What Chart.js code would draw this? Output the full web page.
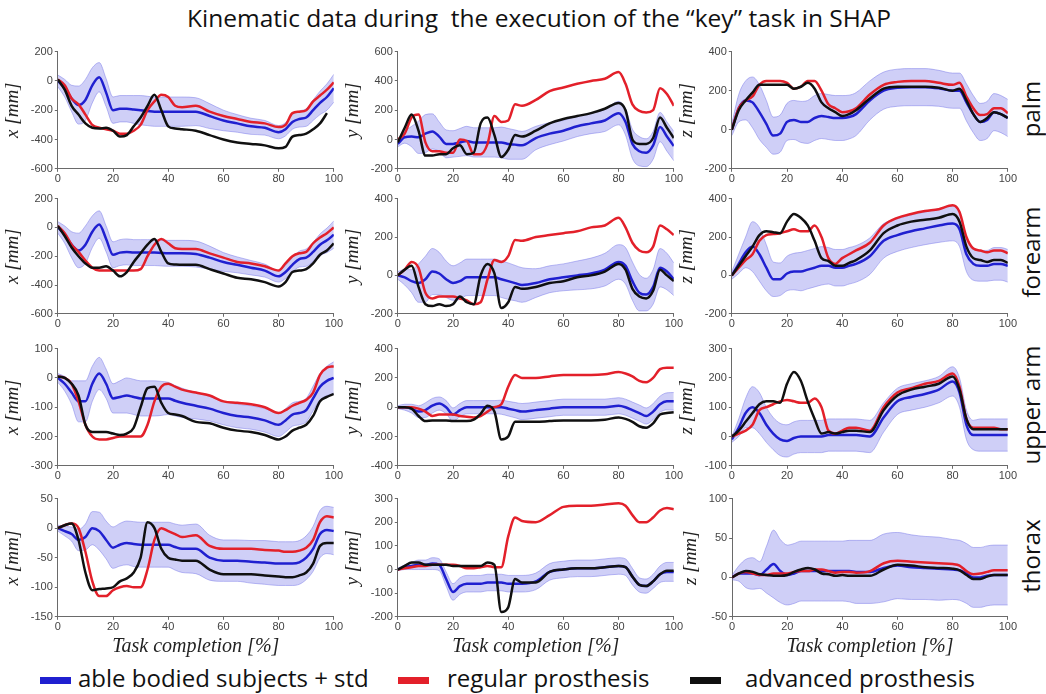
<!DOCTYPE html>
<html>
<head>
<meta charset="utf-8">
<script src="https://cdn.jsdelivr.net/npm/chart.js@4.4.1/dist/chart.umd.min.js"></script>
<style>
  body { margin: 0; background: #fff; width: 1046px; height: 694px; position: relative; overflow: hidden; font-family: "Open Sans", sans-serif; color: #111; }
  canvas { position: absolute; }
  #title { position: absolute; left: 16px; width: 1046px; top: 1px; text-align: center; font-size: 24.5px; white-space: pre; }
  .part { position: absolute; left: 1030px; font-size: 24px; white-space: nowrap; transform: translate(-50%, -50%) rotate(-90deg); }
  .sw { position: absolute; top: 677px; width: 31px; height: 7px; }
  .leg { position: absolute; top: 661px; font-size: 24px; white-space: nowrap; }
</style>
</head>
<body>
<div id="title">Kinematic data during  the execution of the “key” task in SHAP</div>
<div class="part" style="top:109px">palm</div>
<div class="part" style="top:252px">forearm</div>
<div class="part" style="top:405px">upper arm</div>
<div class="part" style="top:556px">thorax</div>
<div class="sw" style="left:40px;background:#2020d0"></div>
<div class="leg" style="left:78px">able bodied subjects + std</div>
<div class="sw" style="left:398px;background:#e3202a"></div>
<div class="leg" style="left:447px">regular prosthesis</div>
<div class="sw" style="left:690px;background:#101010"></div>
<div class="leg" style="left:745px">advanced prosthesis</div>

<script>
// % de la tarea
const pct = [0, 2.5, 5, 7.5, 10, 12.5, 15, 17.5, 20, 22.5, 25, 27.5, 30, 32.5, 35, 37.5, 40, 42.5, 45, 50, 55, 60, 65, 70, 75, 80, 82.5, 85, 87.5, 90, 92.5, 95, 97.5, 100];

// palm
const palmXBlue = [0,-50,-120,-165,-130,-30,25,-80,-200,-190,-190,-195,-200,-205,-210,-210,-210, -210, -210,-210,-240,-270,-290,-310,-320,-350,-330,-280,-260,-250,-200,-150,-110,-50];
const palmXStd = [40,60,90,130,140,120,100,95,90,90,90,95,100,100,100,100,100, 100, 100,95,85,70,60,55,50,45,45,50,55,60,70,80,90,95];
const palmXRed = [10,-30,-120,-160,-230,-300,-320,-330,-340,-360,-360,-340,-300,-200,-140,-95,-110, -170, -180,-170,-210,-240,-260,-280,-290,-315,-300,-220,-210,-200,-140,-100,-60,-10];
const palmXBlack = [10,-60,-170,-230,-290,-320,-325,-320,-340,-380,-370,-310,-250,-170,-95,-200,-310, -325, -330,-340,-370,-400,-420,-430,-440,-460,-450,-380,-370,-360,-330,-290,-220,null];

const palmYBlue = [-30,15,20,15,40,55,20,-30,-30,-20,-10,-20,-20,-20,-20,-20,-30, -35, -40,10,40,60,90,110,130,180,120,-30,-80,-90,-40,85,20,-45];
const palmYStd = [20,40,70,110,130,120,100,95,90,95,100,100,100,100,100,105,105, 100, 95,80,75,70,70,70,75,80,90,100,100,95,95,100,100,100];
const palmYRed = [0,40,150,170,-20,-80,-80,-90,-90,0,-10,-100,-100,-30,160,120,130, 240, 230,270,330,355,380,400,415,460,380,240,195,185,200,350,310,230];
const palmYBlack = [-20,80,170,60,-110,-110,-100,-100,-60,-40,-100,-90,110,150,30,-120,-70, 30, 20,60,110,140,160,180,210,250,200,0,-30,-30,10,150,80,10];

const palmZBlue = [0,110,150,140,90,30,-30,-20,40,50,40,40,60,70,65,60,60, 65, 80,150,200,215,218,218,212,200,200,140,80,40,50,90,80,60];
const palmZStd = [30,70,100,130,140,120,95,95,95,100,105,110,115,115,115,115,115, 112, 110,100,95,95,95,95,92,90,90,95,95,95,95,95,95,95];
const palmZRed = [0,110,150,170,230,250,250,250,240,210,220,250,250,200,130,110,90, 95, 110,180,230,245,250,250,240,230,240,170,110,75,80,110,110,85];
const palmZBlack = [0,100,150,190,230,230,230,230,230,210,220,240,210,140,110,90,70, 80, 100,160,210,220,220,220,215,200,210,150,80,40,60,90,80,60];

// forearm
const foreXBlue = [0,-50,-120,-160,-120,-30,20,-80,-190,-175,-170,-175,-175,-175,-175,-178,-180, -180, -180,-185,-210,-240,-260,-280,-300,-340,-310,-260,-220,-210,-170,-120,-90,-50];
const foreXStd = [40,60,90,120,130,110,95,90,90,90,90,90,90,90,90,90,90, 90, 90,90,80,65,55,50,45,40,45,50,55,60,65,75,85,95];
const foreXRed = [10,-40,-120,-170,-230,-280,-300,-300,-300,-300,-300,-300,-290,-200,-120,-80,-110, -145, -150,-150,-180,-210,-240,-250,-270,-300,-250,-200,-180,-170,-110,-70,-40,0];
const foreXBlack = [10,-60,-140,-200,-250,-280,-280,-270,-300,-340,-310,-240,-180,-120,-80,-170,-250, -258, -260,-260,-290,-320,-350,-360,-380,-410,-380,-310,-300,-290,-250,-190,-160,-110];

const foreYBlue = [0,-10,-30,-40,-20,20,10,-20,-40,-30,-10,-10,-10,-10,-10,-20,-30, -40, -50,-40,-20,-10,0,10,30,70,50,-30,-90,-100,-60,40,20,-20];
const foreYStd = [20,40,60,100,120,120,110,95,90,95,95,95,95,95,95,95,95, 92, 90,75,70,70,75,80,85,90,95,100,95,85,90,100,95,85];
const foreYRed = [0,30,70,40,-90,-120,-110,-110,-110,-120,-130,-150,-140,-20,80,70,100, 185, 180,200,210,220,230,250,260,300,250,170,130,120,150,260,240,210];
const foreYBlack = [0,30,50,-60,-150,-160,-150,-160,-150,-110,-140,-150,0,60,10,-170,-140, -60, -70,-60,-40,-30,-10,0,20,60,30,-70,-110,-120,-80,30,0,-30];

const foreZBlue = [0,60,120,150,110,40,-20,-20,10,20,20,30,40,50,50,40,40, 50, 60,100,180,210,230,245,260,270,240,110,60,50,50,60,60,50];
const foreZStd = [20,50,80,130,140,120,90,85,90,95,100,100,100,100,95,95,95, 95, 95,95,90,85,85,85,88,90,90,90,85,80,80,85,85,85];
const foreZRed = [0,40,80,110,180,210,215,220,230,240,230,230,260,200,90,60,90, 110, 130,170,260,300,320,335,345,365,330,200,140,130,120,130,130,115];
const foreZBlack = [0,50,100,150,210,230,225,220,280,320,300,260,180,90,75,50,50, 65, 80,130,220,260,280,290,300,320,280,150,90,80,70,80,80,65];

// upper arm
const upperXBlue = [0,-20,-50,-80,-80,-20,15,-20,-70,-65,-60,-65,-70,-70,-70,-70,-70, -78, -85,-95,-105,-120,-130,-135,-145,-160,-145,-125,-120,-110,-70,-30,-10,0];
const upperXStd = [15,25,40,70,70,60,55,50,50,55,60,60,60,60,60,58,55, 52, 50,45,42,40,40,40,40,40,40,40,40,40,42,45,50,55];
const upperXRed = [5,0,-20,-80,-160,-200,-210,-210,-205,-200,-200,-200,-200,-160,-80,-30,-20, -30, -40,-50,-60,-80,-85,-90,-100,-120,-110,-95,-85,-75,-50,10,35,40];
const upperXBlack = [5,0,-20,-60,-160,-185,-185,-185,-190,-195,-190,-170,-100,-35,-30,-85,-120, -125, -130,-150,-155,-170,-180,-185,-195,-210,-200,-180,-170,-160,-130,-80,-65,-55];

const upperYBlue = [0,0,-10,-30,-20,10,25,0,-50,-20,0,0,0,0,0,0,-10, -20, -30,-20,-10,0,0,0,0,10,0,-20,-40,-60,-30,20,40,40];
const upperYStd = [10,20,30,40,50,50,45,45,45,45,45,45,45,45,45,48,50, 52, 55,55,55,55,55,55,55,55,55,55,55,55,55,55,58,60];
const upperYRed = [0,0,0,-10,-30,-60,-50,-50,-50,-60,-65,-70,-60,-30,0,20,140, 220, 200,200,210,220,220,220,225,240,230,210,180,170,200,260,270,270];
const upperYBlack = [0,0,-10,-60,-95,-90,-90,-90,-95,-95,-95,-85,-45,10,-30,-220,-200, -100, -100,-100,-95,-90,-90,-90,-85,-70,-80,-100,-130,-140,-110,-50,-40,-35];

const upperZBlue = [-10,30,80,100,80,40,10,-10,-15,-5,0,0,0,0,5,5,5, 5, 5,0,65,120,135,145,160,188,150,40,5,5,5,5,5,5];
const upperZStd = [10,30,50,70,70,60,55,55,55,55,55,55,55,55,55,55,55, 55, 55,55,50,45,45,45,45,50,50,50,50,55,55,55,55,55];
const upperZRed = [0,10,20,40,90,100,110,120,125,120,115,115,130,100,20,10,20, 30, 30,20,100,150,165,180,190,215,170,60,30,30,30,30,25,25];
const upperZBlack = [0,20,50,80,110,120,120,115,180,220,190,120,60,10,15,10,15, 20, 20,15,90,140,160,170,180,205,160,60,25,25,25,25,25,25];

// thorax
const thorXBlue = [0,-5,-10,-20,-15,0,-5,-20,-33,-28,-25,-27,-28,-28,-28,-28,-28, -32, -35,-35,-50,-55,-55,-57,-58,-60,-60,-60,-58,-50,-35,-10,-3,-5];
const thorXStd = [5,8,12,18,22,28,32,32,35,36,37,38,38,38,38,38,38, 39, 40,42,38,35,35,36,37,37,37,37,37,37,38,40,40,40];
const thorXRed = [0,5,8,0,-40,-90,-115,-115,-105,-100,-98,-100,-100,-70,-20,0,-5, -10, -15,-12,-30,-35,-35,-35,-37,-38,-40,-40,-38,-33,-20,10,20,18];
const thorXBlack = [0,5,8,-20,-75,-105,-103,-102,-100,-90,-85,-75,-50,10,0,-35,-50, -53, -55,-55,-70,-78,-78,-78,-80,-82,-83,-83,-80,-75,-60,-30,-25,-25];

const thorYBlue = [0,10,15,20,20,25,20,-40,-95,-70,-60,-60,-60,-55,-55,-55,-60, -60, -60,-50,-10,0,5,5,10,15,10,-30,-65,-70,-50,-20,-10,-10];
const thorYStd = [5,10,15,20,20,25,25,30,35,35,35,35,35,35,35,35,35, 35, 35,35,35,35,35,35,35,35,35,35,30,30,30,35,40,40];
const thorYRed = [0,5,10,15,15,20,20,20,20,15,5,5,10,15,10,10,140, 220, 205,200,230,265,270,270,275,280,270,230,200,200,220,250,260,255];
const thorYBlack = [0,15,30,30,20,20,20,20,15,15,15,15,15,30,20,-180,-160, -40, -55,-55,-10,0,5,5,10,15,10,-30,-65,-70,-50,-20,-5,-5];

const thorZBlue = [0,5,5,5,3,10,17,8,3,5,8,8,8,8,8,8,8, 8, 7,7,12,15,13,12,11,10,9,5,0,0,2,3,3,3];
const thorZStd = [3,10,18,20,17,30,43,40,38,38,38,38,38,38,38,38,38, 39, 40,40,43,42,41,40,40,38,38,38,38,38,38,38,38,38];
const thorZRed = [0,5,7,5,3,3,5,5,5,7,8,8,10,10,8,6,7, 7, 6,8,18,21,20,19,18,17,15,8,4,5,7,9,9,9];
const thorZBlack = [0,5,8,7,4,3,2,2,3,7,10,12,10,5,4,2,3, 2, 2,2,10,16,15,13,12,11,9,3,-2,-2,1,3,3,3];

// paneles: fila, columna, eje y rango
const panels = [
  { row: 0, col: 0, axis: 'x', min: -600, max: 200, step: 200, blue: palmXBlue, std: palmXStd, red: palmXRed, black: palmXBlack },
  { row: 0, col: 1, axis: 'y', min: -200, max: 600, step: 200, blue: palmYBlue, std: palmYStd, red: palmYRed, black: palmYBlack },
  { row: 0, col: 2, axis: 'z', min: -200, max: 400, step: 200, blue: palmZBlue, std: palmZStd, red: palmZRed, black: palmZBlack },
  { row: 1, col: 0, axis: 'x', min: -600, max: 200, step: 200, blue: foreXBlue, std: foreXStd, red: foreXRed, black: foreXBlack },
  { row: 1, col: 1, axis: 'y', min: -200, max: 400, step: 200, blue: foreYBlue, std: foreYStd, red: foreYRed, black: foreYBlack },
  { row: 1, col: 2, axis: 'z', min: -200, max: 400, step: 200, blue: foreZBlue, std: foreZStd, red: foreZRed, black: foreZBlack },
  { row: 2, col: 0, axis: 'x', min: -300, max: 100, step: 100, blue: upperXBlue, std: upperXStd, red: upperXRed, black: upperXBlack },
  { row: 2, col: 1, axis: 'y', min: -400, max: 400, step: 200, blue: upperYBlue, std: upperYStd, red: upperYRed, black: upperYBlack },
  { row: 2, col: 2, axis: 'z', min: -100, max: 300, step: 100, blue: upperZBlue, std: upperZStd, red: upperZRed, black: upperZBlack },
  { row: 3, col: 0, axis: 'x', min: -150, max: 50, step: 50, blue: thorXBlue, std: thorXStd, red: thorXRed, black: thorXBlack },
  { row: 3, col: 1, axis: 'y', min: -200, max: 300, step: 100, blue: thorYBlue, std: thorYStd, red: thorYRed, black: thorYBlack },
  { row: 3, col: 2, axis: 'z', min: -50, max: 100, step: 50, blue: thorZBlue, std: thorZStd, red: thorZRed, black: thorZBlack }
];

// posición del área de dibujo de cada panel
const colLeft = [58, 398, 732];
const plotW = 276;
const rowTop = [52, 199, 349, 499];
const rowH = [117, 115, 117, 118];

const tickFont = { family: 'Liberation Sans', size: 11 };
const axisGray = '#6a6a6a';
const band = 'rgba(110,110,230,0.33)';
const bandEdge = 'rgba(110,110,230,0.45)';

function pts(arr) {
  return pct.map((x, i) => ({ x: x, y: arr[i] }));
}

function line(arr, color) {
  return { data: pts(arr), borderColor: color, borderWidth: 2.5, pointRadius: 0, fill: false, cubicInterpolationMode: 'monotone' };
}

function config(p) {
  const up = p.blue.map((v, i) => v + p.std[i]);
  const lo = p.blue.map((v, i) => v - p.std[i]);
  return {
    type: 'line',
    data: {
      datasets: [
        line(p.black, '#101010'),
        line(p.red, '#e3202a'),
        line(p.blue, '#2020d0'),
        { data: pts(up), fill: '+1', backgroundColor: band, borderColor: bandEdge, borderWidth: 1, pointRadius: 0, cubicInterpolationMode: 'monotone' },
        { data: pts(lo), fill: false, borderColor: bandEdge, borderWidth: 1, pointRadius: 0, cubicInterpolationMode: 'monotone' }
      ]
    },
    options: {
      responsive: false,
      animation: false,
      events: [],
      layout: { padding: { top: 6, right: 0, left: 0, bottom: 0 } },
      plugins: { legend: { display: false }, tooltip: { enabled: false } },
      scales: {
        x: {
          type: 'linear', min: 0, max: 100,
          ticks: { stepSize: 20, font: tickFont, color: '#444', padding: 1, maxRotation: 0 },
          grid: { drawOnChartArea: false, tickLength: 3, color: axisGray },
          border: { color: axisGray },
          title: {
            display: p.row === 3,
            text: 'Task completion [%]',
            font: { family: 'Liberation Serif', style: 'italic', size: 20 },
            color: '#222',
            padding: { top: 0, bottom: 0 }
          }
        },
        y: {
          min: p.min, max: p.max,
          ticks: { stepSize: p.step, font: tickFont, color: '#444', padding: 2 },
          grid: { drawOnChartArea: false, tickLength: 3, color: axisGray },
          border: { color: axisGray },
          title: {
            display: true,
            text: p.axis + ' [mm]',
            font: { family: 'Liberation Serif', style: 'italic', size: 19 },
            color: '#222',
            padding: { top: 0, bottom: 4 }
          }
        }
      }
    }
  };
}

function drawPanel(p) {
  const cv = document.createElement('canvas');
  document.body.appendChild(cv);
  cv.width = 400;
  cv.height = 220;
  // primera pasada para medir los márgenes del eje
  let chart = new Chart(cv, config(p));
  const a = chart.chartArea;
  const w = Math.round(a.left + plotW + (400 - a.right));
  const h = Math.round(a.top + rowH[p.row] + (220 - a.bottom));
  chart.destroy();
  cv.width = w;
  cv.height = h;
  chart = new Chart(cv, config(p));
  const b = chart.chartArea;
  cv.style.left = Math.round(colLeft[p.col] - b.left) + 'px';
  cv.style.top = Math.round(rowTop[p.row] - b.top) + 'px';
}

panels.forEach(drawPanel);
</script>
</body>
</html>
